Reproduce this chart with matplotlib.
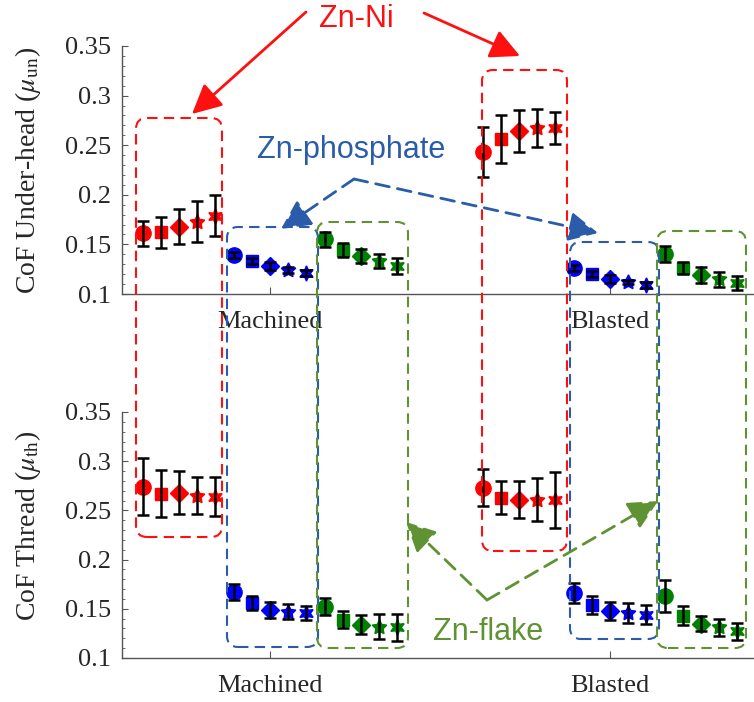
import matplotlib
matplotlib.use('Agg')
import matplotlib.pyplot as plt
from matplotlib.patches import FancyBboxPatch, FancyArrowPatch
from matplotlib.transforms import IdentityTransform
from matplotlib.ticker import MultipleLocator

plt.rcParams['font.family'] = ['Liberation Serif', 'DejaVu Serif']
plt.rcParams['mathtext.fontset'] = 'stix'

# ---------------- data ----------------
surfaces = ['Machined', 'Blasted']
coatings = ['Zn-Ni', 'Zn-phosphate', 'Zn-flake']
ytick_vals = [0.1, 0.15, 0.2, 0.25, 0.3, 0.35]
ytick_labels = ['0.1', '0.15', '0.2', '0.25', '0.3', '0.35']

# each list: 5 machined values followed by 5 blasted values
uh_znni_mean = [0.161, 0.162, 0.168, 0.173, 0.179, 0.243, 0.256, 0.264, 0.267, 0.267]
uh_znni_err = [0.013, 0.016, 0.018, 0.021, 0.021, 0.025, 0.024, 0.021, 0.019, 0.016]
uh_phos_mean = [0.139, 0.133, 0.128, 0.124, 0.121, 0.126, 0.120, 0.115, 0.112, 0.109]
uh_phos_err = [0.003, 0.003, 0.004, 0.003, 0.003, 0.003, 0.003, 0.004, 0.002, 0.003]
uh_flake_mean = [0.155, 0.144, 0.138, 0.133, 0.128, 0.140, 0.126, 0.119, 0.115, 0.111]
uh_flake_err = [0.008, 0.007, 0.007, 0.007, 0.008, 0.008, 0.006, 0.008, 0.0075, 0.007]

th_znni_mean = [0.274, 0.267, 0.268, 0.265, 0.264, 0.273, 0.263, 0.261, 0.261, 0.261]
th_znni_err = [0.029, 0.024, 0.022, 0.019, 0.020, 0.019, 0.0165, 0.019, 0.0215, 0.0285]
th_phos_mean = [0.167, 0.156, 0.149, 0.147, 0.146, 0.166, 0.154, 0.148, 0.146, 0.144]
th_phos_err = [0.0085, 0.0075, 0.008, 0.0075, 0.0073, 0.010, 0.0095, 0.009, 0.010, 0.0095]
th_flake_mean = [0.152, 0.139, 0.134, 0.132, 0.131, 0.163, 0.143, 0.135, 0.131, 0.127]
th_flake_err = [0.0085, 0.0087, 0.0097, 0.013, 0.0135, 0.0165, 0.0095, 0.008, 0.009, 0.009]

# ---------------- style ----------------
W, H = 754, 702
fig = plt.figure(figsize=(W / 100, H / 100), dpi=100)

def ax_rect(l, t, r, b):
    return [l / W, 1 - b / H, (r - l) / W, (b - t) / H]

ax_top = fig.add_axes(ax_rect(122, 46, 754, 294))
ax_bot = fig.add_axes(ax_rect(122, 412, 754, 658))

colors = ['#ff0000', '#0000ff', '#008000']
markers = ['o', 's', 'D', (5, 1, 0), (6, 1, 0)]
msizes = [11, 8.5, 9.5, 11, 11]
step = 0.0535
axis_col = '#555555'

panels = [
    (ax_top, [(uh_znni_mean, uh_znni_err), (uh_phos_mean, uh_phos_err), (uh_flake_mean, uh_flake_err)]),
    (ax_bot, [(th_znni_mean, th_znni_err), (th_phos_mean, th_phos_err), (th_flake_mean, th_flake_err)]),
]

for ax, series in panels:
    for gi, gpos in enumerate([1, 2]):
        for ci, (means, errs) in enumerate(series):
            for k in range(5):
                idx = gi * 5 + k
                x = gpos + (ci - 1) * 5 * step + (k - 2) * step
                ax.plot([x], [means[idx]], marker=markers[k], color=colors[ci],
                        mec=colors[ci], ms=msizes[k], ls='none', zorder=2)
                ax.errorbar([x], [means[idx]], yerr=[errs[idx]], fmt='none', ecolor='k',
                            elinewidth=1.8, capsize=4.5, capthick=1.8, zorder=3)
    ax.set_xlim(0.565, 2.4235)
    ax.set_ylim(0.1, 0.35)
    ax.set_yticks(ytick_vals)
    ax.set_yticklabels(ytick_labels)
    ax.yaxis.set_minor_locator(MultipleLocator(0.01))
    ax.set_xticks([1, 2])
    ax.set_xticklabels(surfaces)
    for s in ['top', 'right']:
        ax.spines[s].set_visible(False)
    for s in ['left', 'bottom']:
        ax.spines[s].set_color(axis_col)
        ax.spines[s].set_linewidth(1.0)
    ax.tick_params(axis='both', which='both', direction='in', colors=axis_col,
                   labelcolor='#262626', labelsize=19)
    ax.tick_params(axis='y', which='major', length=4, pad=8)
    ax.tick_params(axis='y', which='minor', length=2.5)
    ax.tick_params(axis='x', which='major', length=5, pad=12)
    ax.set_facecolor('none')

fig.text(28 / W, 1 - 170 / H, 'CoF Under-head ($\\mu_{\\rm un}$)', rotation=90,
         ha='center', va='center', fontsize=20, color='#262626')
fig.text(28 / W, 1 - 526 / H, 'CoF Thread ($\\mu_{\\rm th}$)', rotation=90,
         ha='center', va='center', fontsize=20, color='#262626')

# ---------------- annotations (pixel coords) ----------------
red_c = '#ff1010'
blue_c = '#2a5caa'
green_c = '#5e9232'
T = IdentityTransform()

def box(x0, y0, x1, y1, color):
    p = FancyBboxPatch((x0, H - y1), x1 - x0, y1 - y0,
                       boxstyle='round,pad=0,rounding_size=11', transform=T,
                       fill=False, edgecolor=color, lw=1.5, ls=(0, (5, 3)), zorder=5)
    fig.add_artist(p)

box(136, 118, 222, 537, red_c)
box(482, 70, 567, 551, red_c)
box(227, 227, 318, 647, blue_c)
box(317, 222, 408, 648, green_c)
box(570, 242, 659, 639, blue_c)
box(657, 231, 746, 648, green_c)

def arrow(p0, p1, color, dashed):
    a = FancyArrowPatch((p0[0], H - p0[1]), (p1[0], H - p1[1]), transform=T,
                        arrowstyle='-|>,head_length=0.9,head_width=0.45',
                        mutation_scale=20, color=color, lw=2.0,
                        ls=(0, (5, 3)) if dashed else '-', shrinkA=0, shrinkB=0, zorder=6)
    fig.add_artist(a)

arrow((306, 12), (192, 114), red_c, False)
arrow((424, 13), (520, 56), red_c, False)
arrow((354, 179), (281, 229), blue_c, True)
arrow((354, 179), (598, 233), blue_c, True)
arrow((487, 600), (406, 522), green_c, True)
arrow((487, 600), (658, 501), green_c, True)

fig.text(356 / W, 1 - 19 / H, 'Zn-Ni', color=red_c, family='Liberation Sans',
         fontsize=22, ha='center', va='center')
fig.text(351 / W, 1 - 150 / H, 'Zn-phosphate', color=blue_c, family='Liberation Sans',
         fontsize=22, ha='center', va='center')
fig.text(488 / W, 1 - 632 / H, 'Zn-flake', color=green_c, family='Liberation Sans',
         fontsize=22, ha='center', va='center')

fig.savefig('out.png', dpi=100)
